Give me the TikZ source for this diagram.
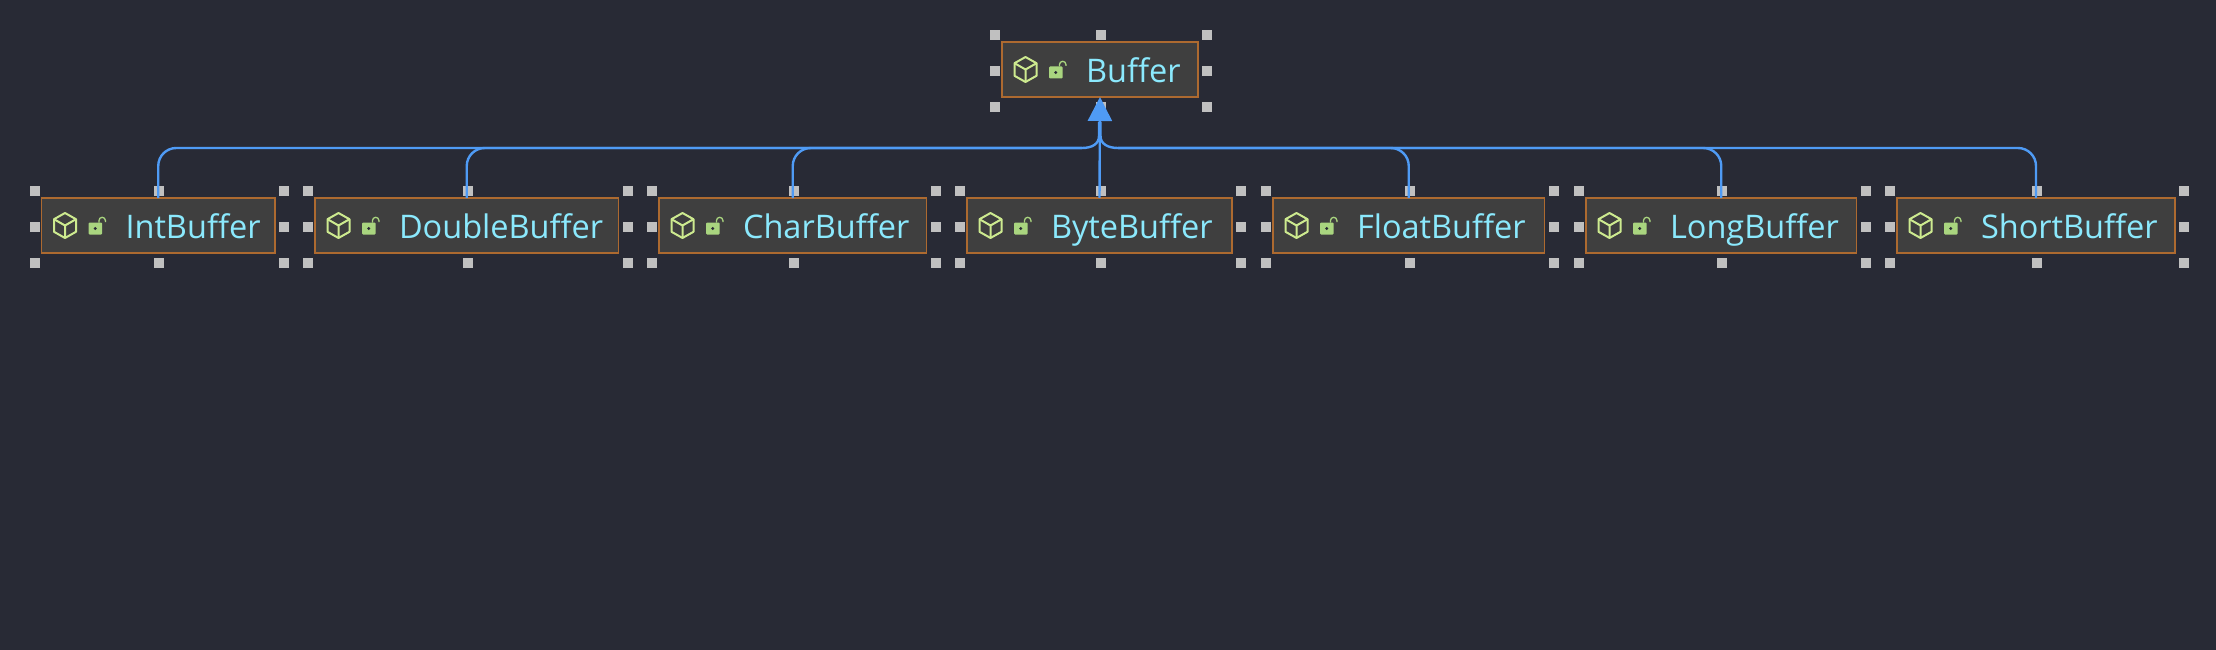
\documentclass[tikz,border=0pt]{standalone}
\usepackage{fontspec}
\setmainfont{Open Sans}
\usetikzlibrary{arrows.meta}
\definecolor{bgc}{HTML}{282A35}
\definecolor{boxfill}{HTML}{3F3F3F}
\definecolor{boxline}{HTML}{AD6A30}
\definecolor{namec}{HTML}{8BE9FD}
\definecolor{conn}{HTML}{4F9BF5}
\definecolor{cubec}{HTML}{CDEA8F}
\definecolor{lockc}{HTML}{A9D57F}
\definecolor{handlec}{HTML}{C0C0C0}
\tikzset{
  x=1pt,y=-1pt,
  umlbox/.style={draw=boxline,fill=boxfill,line width=1.2pt,inner sep=0pt,outer sep=0pt,anchor=center},
  umlname/.style={text=namec,inner sep=0pt,outer sep=0pt,anchor=base west,font=\fontsize{32.5}{33}\selectfont},
  handle/.style={fill=handlec},
  cubeline/.style={draw=cubec,line width=2pt,line join=round},
  shackle/.style={draw=lockc,line width=1.3pt},
  connector/.style={draw=conn,line width=2.4pt},
  elbow/.style={connector,rounded corners=18pt},
  inherit/.style={connector,-{Triangle[length=24pt,width=24pt]}},
}
% name, x0, x1, y0, y1, label
\newcommand{\umlclass}[6]{%
  \pgfmathsetmacro{\cx}{(#2+#3)/2}
  \pgfmathsetmacro{\cy}{(#4+#5)/2}
  \pgfmathsetmacro{\bw}{#3-#2}
  \pgfmathsetmacro{\bh}{#5-#4}
  \pgfmathsetmacro{\hxa}{#2-7}
  \pgfmathsetmacro{\hxb}{\cx+1}
  \pgfmathsetmacro{\hxc}{#3+9}
  \pgfmathsetmacro{\hya}{#4-7}
  \pgfmathsetmacro{\hyb}{\cy+1.3}
  \pgfmathsetmacro{\hyc}{#5+9.7}
  \foreach \hx in {\hxa,\hxb,\hxc}{\foreach \hy in {\hya,\hyb,\hyc}{%
    \ifdim\hx pt=\hxb pt \ifdim\hy pt=\hyb pt \else
      \fill[handle] (\hx-5,\hy-5) rectangle (\hx+5,\hy+5);\fi
    \else
      \fill[handle] (\hx-5,\hy-5) rectangle (\hx+5,\hy+5);\fi
  }}
  \node[umlbox,minimum width=\bw pt,minimum height=\bh pt] (#1) at (\cx,\cy) {};
  \pgfmathsetmacro{\ix}{#2+23.5}
  \begin{scope}[shift={(\ix,\cy)}]
    \draw[cubeline] (0,-12.5) -- (11,-6.3) -- (11,6.3) -- (0,12.5) -- (-11,6.3) -- (-11,-6.3) -- cycle;
    \draw[cubeline] (-11,-6.3) -- (0,0) -- (11,-6.3) (0,0) -- (0,12.5);
    \fill[lockc,rounded corners=1pt] (23.5,-3) rectangle (37,9);
    \fill[bgc] (30.3,3) circle (1.6pt);
    \draw[shackle] (34,-3) -- (34,-5) arc (180:360:3.2) -- (40.4,-3.5);
  \end{scope}
  \node[umlname] (#1-label) at (#2+84,\cy+13) {#6};
}
\begin{document}
\begin{tikzpicture}
\useasboundingbox (0,0) rectangle (2216,650);
\fill[bgc] (0,0) rectangle (2216,650);
\umlclass{buffer}{1002}{1198}{42}{97}{Buffer}
\umlclass{intb}{41.5}{275}{198}{253}{IntBuffer}
\umlclass{doubleb}{315}{618.5}{198}{253}{DoubleBuffer}
\umlclass{charb}{659}{926.5}{198}{253}{CharBuffer}
\umlclass{byteb}{967}{1232}{198}{253}{ByteBuffer}
\umlclass{floatb}{1273}{1544.5}{198}{253}{FloatBuffer}
\umlclass{longb}{1586}{1856.5}{198}{253}{LongBuffer}
\umlclass{shortb}{1897}{2175}{198}{253}{ShortBuffer}
\coordinate (elbowL) at (1082,148);
\coordinate (elbowR) at (1118,148);
\coordinate (trunkL) at (1099,122);
\coordinate (trunkR) at (1100.5,122);
\foreach \n in {intb,doubleb,charb}{
  \draw[elbow] (\n.north) |- (elbowL);
}
\foreach \n in {floatb,longb,shortb}{
  \draw[elbow] (\n.north) |- (elbowR);
}
\draw[connector] (elbowL) .. controls (1092,148) and (1099,144) .. (1099,136) -- (trunkL);
\draw[connector] (elbowR) .. controls (1108,148) and (1100.5,144) .. (1100.5,136) -- (trunkR);
\draw[inherit] (byteb.north) -- (buffer.south);
\end{tikzpicture}
\end{document}
